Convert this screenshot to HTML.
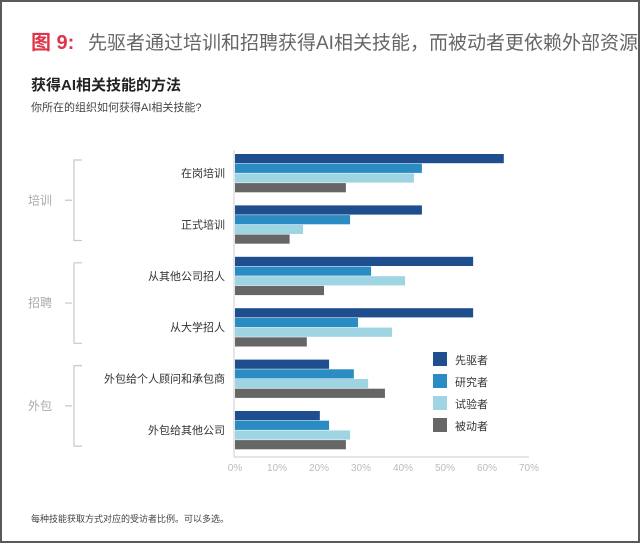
<!DOCTYPE html>
<html><head><meta charset="utf-8">
<style>
html,body{margin:0;padding:0;background:#fff;}
body{width:640px;height:543px;overflow:hidden;font-family:"Liberation Sans","Noto Sans CJK SC",sans-serif;}
#frame{position:absolute;left:0;top:0;width:636px;height:539px;border:2px solid #5a5a5a;background:#fff;}
</style></head>
<body>
<div id="frame"></div>
<svg id="chart" width="640" height="543" style="position:absolute;left:0;top:0"
 font-family="Liberation Sans, Noto Sans CJK SC, sans-serif">
  <text x="31" y="49" font-size="20" fill="#e0344a" font-weight="bold">图 9:</text>
  <text x="88" y="49" font-size="19" fill="#666">先驱者通过培训和招聘获得AI相关技能，而被动者更依赖外部资源</text>
  <text x="31" y="90" font-size="15" font-weight="bold" fill="#222">获得AI相关技能的方法</text>
  <text x="31" y="111" font-size="11" fill="#444">你所在的组织如何获得AI相关技能?</text>
  <text x="31" y="522" font-size="9" fill="#444">每种技能获取方式对应的受访者比例。可以多选。</text>
  <g id="plot"></g>
</svg>
<script>
const categories = ["在岗培训","正式培训","从其他公司招人","从大学招人","外包给个人顾问和承包商","外包给其他公司"];
const seriesNames = ["先驱者","研究者","试验者","被动者"];
const pioneers = [64, 44.5, 56.7, 56.7, 22.4, 20.2];
const investigators = [44.5, 27.4, 32.4, 29.3, 28.3, 22.4];
const experimenters = [42.6, 16.2, 40.5, 37.4, 31.7, 27.4];
const passives = [26.4, 13, 21.2, 17.1, 35.7, 26.4];
const tickValues = [0,10,20,30,40,50,60,70];
const tickLabels = ["0%","10%","20%","30%","40%","50%","60%","70%"];
const groupNames = ["培训","招聘","外包"];

const colors = ["#1f4e8e","#2a8cc3","#9fd4e2","#666666"];
const series = [pioneers, investigators, experimenters, passives];
const NS = "http://www.w3.org/2000/svg";
const plot = document.getElementById("plot");
const x0 = 235, pxPer = 4.2;
const xScale = v => x0 + v * pxPer;
const groupTop0 = 154, groupStep = 51.4, barStep = 9.7, barH = 9.2;
const yBar = (ci, si) => groupTop0 + ci * groupStep + si * barStep;
function mk(tag, attrs){ const e=document.createElementNS(NS,tag); for(const k in attrs) e.setAttribute(k, attrs[k]); plot.appendChild(e); return e; }

// axes
let ax = mk("line",{x1:234,y1:150,x2:234,y2:457,stroke:"#ccc","stroke-width":1});


let bx = mk("line",{x1:234,y1:457,x2:xScale(70),y2:457,stroke:"#ccc","stroke-width":1});


tickValues.forEach((v,i)=>{
  const t = mk("text",{x:xScale(v),y:471,"font-size":10,fill:"#bbb","text-anchor":"middle"});
  t.textContent = tickLabels[i];
  
  
});

categories.forEach((c,ci)=>{
  const t = mk("text",{x:225,y:yBar(ci,0)+23,"font-size":11,fill:"#333","text-anchor":"end"});
  t.textContent = c;
  
  
  series.forEach((s,si)=>{
    const r = mk("rect",{x:x0,y:yBar(ci,si),width:Math.max(0,xScale(s[ci])-x0),height:barH,fill:colors[si]});
    
    
  });
});

// group brackets
groupNames.forEach((g,gi)=>{
  const top = yBar(gi*2,0)+6, bot = yBar(gi*2+1,3)+6, mid=(top+bot)/2;
  const p = mk("path",{d:`M82 ${top} H74 V${bot} H82 M65 ${mid} H72`,fill:"none",stroke:"#c8c8c8","stroke-width":1.2});
  
  
  const t = mk("text",{x:28,y:mid+4,"font-size":12,fill:"#aaa"});
  t.textContent = g;
  
  
});

// legend
seriesNames.forEach((n,i)=>{
  const y = 352 + i*22;
  const r = mk("rect",{x:433,y:y,width:14,height:14,fill:colors[i]});
  
  
  const t = mk("text",{x:455,y:y+12,"font-size":11,fill:"#333"});
  t.textContent = n;
  
  
});
</script>
</body></html>
